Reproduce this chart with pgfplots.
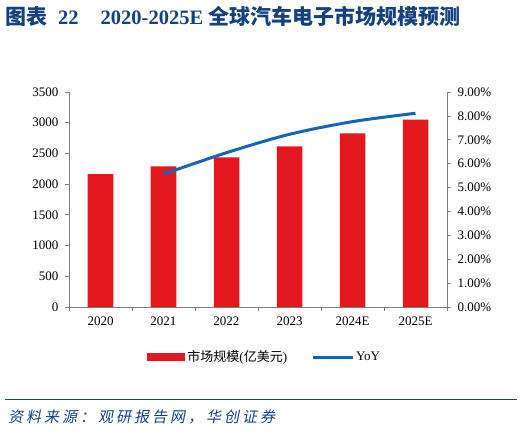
\documentclass[border=0pt]{standalone}
\usepackage{fontspec}
\usepackage{pgfplots}
\pgfplotsset{compat=1.18}
\setmainfont{Liberation Serif}
\newfontfamily\cjk{Noto Sans CJK SC}
\newfontfamily\cjkit{Noto Sans CJK SC}[FakeSlant=0.2,LetterSpace=20]
\definecolor{titleblue}{RGB}{23,64,128}
\definecolor{barred}{RGB}{228,22,30}
\definecolor{lineblue}{RGB}{21,101,192}
\definecolor{axgray}{RGB}{128,128,128}
\begin{document}
\begin{tikzpicture}
\path[use as bounding box] (0pt,0pt) rectangle (524pt,-431pt);
\node[anchor=west, inner sep=0, text=titleblue, font=\bfseries\fontsize{20.5}{22}\selectfont] at (5pt,-16pt)
  {{\cjk\fontsize{21}{22}\selectfont 图表}\hspace{11pt}22\hspace{22pt}2020-2025E {\cjk\fontsize{21}{22}\selectfont 全球汽车电子市场规模预测}};
\begin{axis}[
  at={(69pt,-307pt)}, anchor=south west, scale only axis,
  width=378pt, height=215pt,
  xmin=-0.5, xmax=5.5, ymin=0, ymax=3500,
  ytick={0,500,...,3500},
  xtick={0,...,5}, xticklabels={2020,2021,2022,2023,2024E,2025E},
  minor xtick={-0.5,0.5,...,5.5},
  major x tick style={draw=none},
  axis x line*=bottom, axis y line*=left,
  tick align=outside, major tick length=4pt, minor tick length=4pt,
  axis line style={axgray, line width=0.8pt},
  every tick/.style={axgray, line width=0.8pt},
  minor tick style={axgray, line width=0.8pt},
  tick label style={font=\fontsize{13}{14}\selectfont},
  /pgf/number format/assume math mode=true,
  /pgf/number format/1000 sep={},
  yticklabel style={xshift=-3pt},
  xticklabel style={yshift=-2pt},
  legend style={draw=none, fill=none, at={(0.518,-0.2326)}, anchor=center,
    font=\fontsize{13}{14}\selectfont, legend columns=2,
    /tikz/every even column/.append style={column sep=22pt}},
]
\addplot[ybar, bar width=25.5pt, fill=barred, draw=none,
  legend image code/.code={\fill[barred] (0pt,-4pt) rectangle (38pt,4pt);}]
  coordinates {(0,2165) (1,2290) (2,2437) (3,2616) (4,2828) (5,3049)};
\addlegendentry{{\cjk 市场规模}({\cjk 亿美元})}
\addlegendimage{legend image code/.code={\draw[lineblue, line width=3pt] (0pt,0pt) -- (40pt,0pt);}}
\addlegendentry{YoY}
\end{axis}
\begin{axis}[
  at={(69pt,-307pt)}, anchor=south west, scale only axis,
  width=378pt, height=215pt,
  xmin=-0.5, xmax=5.5, ymin=0, ymax=9,
  ytick={0,1,...,9},
  axis x line=none, axis y line*=right,
  tick align=outside, major tick length=4pt,
  axis line style={axgray, line width=0.8pt},
  every tick/.style={axgray, line width=0.8pt},
  tick label style={font=\fontsize{13}{14}\selectfont},
  /pgf/number format/assume math mode=true,
  yticklabel={\pgfmathprintnumber[fixed,fixed zerofill,precision=2,assume math mode=true]{\tick}\%},
  yticklabel style={xshift=3pt},
]
\addplot[lineblue, line width=3pt, smooth, tension=0.5]
  coordinates {(1,5.56) (2,6.46) (3,7.23) (4,7.76) (5,8.11)};
\end{axis}
\draw[titleblue, line width=1.5pt] (5pt,-399.5pt) -- (517pt,-399.5pt);
\node[anchor=west, inner sep=0, text=titleblue, font=\cjkit\fontsize{15}{17}\selectfont] at (8pt,-417pt) {资料来源：观研报告网，华创证券};
\end{tikzpicture}
\end{document}
